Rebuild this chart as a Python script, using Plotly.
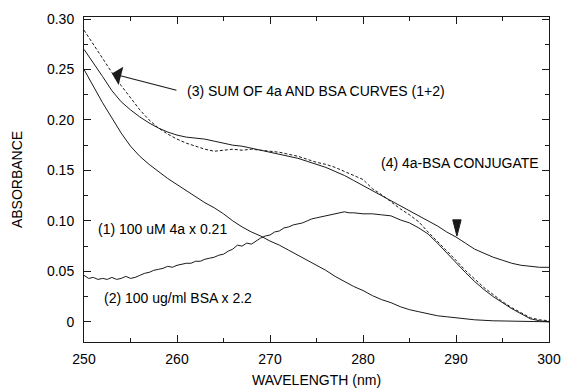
import plotly.graph_objects as go

# ---- data ----
wl_4a = [250, 251, 252, 253, 254, 255, 256, 257, 258, 259, 260, 261, 262, 263, 264, 265, 266, 267,
         268, 269, 270, 271, 272, 273, 274, 275, 276, 277, 278, 279, 280, 281, 282, 283, 284, 285,
         286, 287, 288, 289, 290, 292, 294, 296, 298, 300]
abs_4a = [0.250, 0.233, 0.217, 0.202, 0.187, 0.174, 0.164, 0.156, 0.149, 0.142, 0.136, 0.130,
          0.124, 0.118, 0.113, 0.107, 0.100, 0.094, 0.089, 0.085, 0.080, 0.076, 0.071, 0.066,
          0.061, 0.056, 0.051, 0.045, 0.040, 0.035, 0.031, 0.026, 0.022, 0.019, 0.015, 0.012,
          0.010, 0.008, 0.006, 0.005, 0.004, 0.002, 0.001, 0.0005, 0.0, 0.0]

wl_bsa = [250, 250.5, 251, 251.5, 252, 252.5, 253, 253.5, 254, 254.5, 255, 255.5, 256, 256.5,
          257, 257.5, 258, 258.5, 259, 259.5, 260, 260.5, 261, 261.5, 262, 262.5, 263, 263.5,
          264, 264.5, 265, 265.5, 266, 266.5, 267, 267.5, 268, 268.5, 269, 269.5, 270, 270.5,
          271, 271.5, 272, 272.5, 273, 273.5, 274, 274.5, 275, 275.5, 276, 276.5, 277, 277.5,
          278, 278.5, 279, 280, 281, 282, 283, 284, 285, 286, 287, 288, 289, 290, 291, 292,
          293, 294, 295, 296, 297, 298, 298.5, 299, 300]
abs_bsa = [0.046, 0.043, 0.044, 0.042, 0.043, 0.042, 0.044, 0.042, 0.043, 0.045, 0.043, 0.044,
           0.046, 0.048, 0.049, 0.051, 0.052, 0.053, 0.055, 0.054, 0.056, 0.057, 0.058, 0.058,
           0.060, 0.060, 0.062, 0.063, 0.064, 0.066, 0.067, 0.070, 0.072, 0.076, 0.075, 0.078,
           0.077, 0.080, 0.083, 0.085, 0.086, 0.089, 0.090, 0.093, 0.094, 0.096, 0.097, 0.098,
           0.100, 0.102, 0.103, 0.104, 0.105, 0.106, 0.107, 0.108, 0.109, 0.108, 0.108, 0.107,
           0.107, 0.106, 0.105, 0.101, 0.098, 0.093, 0.087, 0.078, 0.068, 0.058, 0.049, 0.040,
           0.032, 0.025, 0.019, 0.013, 0.008, 0.003, 0.002, 0.001, 0.0]

wl_sum = [250, 251, 252, 253, 254, 255, 256, 257, 258, 259, 260, 261, 262, 263, 264, 265, 266, 267,
          268, 269, 270, 271, 272, 273, 274, 275, 276, 277, 278, 279, 280, 281, 282, 283, 284, 285,
          286, 287, 288, 289, 290, 291, 292, 293, 294, 295, 296, 297, 298, 299, 300]
abs_sum = [0.289, 0.275, 0.260, 0.247, 0.234, 0.222, 0.210, 0.200, 0.192, 0.186, 0.181, 0.177,
           0.174, 0.171, 0.169, 0.170, 0.171, 0.170, 0.171, 0.170, 0.169, 0.168, 0.166, 0.164,
           0.161, 0.158, 0.156, 0.153, 0.149, 0.145, 0.141, 0.132, 0.126, 0.119, 0.112, 0.106,
           0.099, 0.089, 0.080, 0.070, 0.061, 0.051, 0.042, 0.034, 0.027, 0.020, 0.014, 0.009,
           0.004, 0.002, 0.001]

wl_conj = [250, 251, 252, 253, 254, 255, 256, 257, 258, 259, 260, 261, 262, 263, 264, 265, 266, 267,
           268, 269, 270, 271, 272, 273, 274, 275, 276, 277, 278, 279, 280, 281, 282, 283, 284, 285,
           286, 287, 288, 289, 290, 291, 292, 293, 294, 295, 296, 297, 298, 299, 300]
abs_conj = [0.270, 0.257, 0.243, 0.229, 0.218, 0.210, 0.203, 0.197, 0.192, 0.188, 0.185, 0.183,
            0.182, 0.181, 0.179, 0.177, 0.175, 0.174, 0.172, 0.170, 0.168, 0.166, 0.164, 0.162,
            0.159, 0.156, 0.153, 0.149, 0.145, 0.140, 0.135, 0.130, 0.125, 0.120, 0.115, 0.110,
            0.105, 0.100, 0.095, 0.089, 0.084, 0.078, 0.072, 0.068, 0.064, 0.061, 0.058, 0.056,
            0.055, 0.054, 0.054]

x_ticks = [250, 260, 270, 280, 290, 300]
y_ticks = [0, 0.05, 0.10, 0.15, 0.20, 0.25, 0.30]
y_tick_text = ["0", "0.05", "0.10", "0.15", "0.20", "0.25", "0.30"]

FONT = "Liberation Sans, Arial, sans-serif"
INK = "#1a1a1a"

fig = go.Figure()
fig.add_trace(go.Scatter(x=wl_4a, y=abs_4a, mode="lines", line=dict(color=INK, width=1), name="(1)"))
fig.add_trace(go.Scatter(x=wl_bsa, y=abs_bsa, mode="lines", line=dict(color=INK, width=1), name="(2)"))
fig.add_trace(go.Scatter(x=wl_sum, y=abs_sum, mode="lines",
                         line=dict(color=INK, width=1, dash="3px,2px"), name="(3)"))
fig.add_trace(go.Scatter(x=wl_conj, y=abs_conj, mode="lines", line=dict(color=INK, width=1), name="(4)"))

tf = dict(family=FONT, size=14, color="black")
fig.add_annotation(x=260.9, y=0.229, xref="x", yref="y", text="(3) SUM OF 4a AND BSA CURVES (1+2)",
                   showarrow=False, xanchor="left", yanchor="middle", font=tf)
fig.add_annotation(x=281.7, y=0.157, xref="x", yref="y", text="(4) 4a-BSA CONJUGATE",
                   showarrow=False, xanchor="left", yanchor="middle", font=tf)
fig.add_annotation(x=251.3, y=0.092, xref="x", yref="y", text="(1) 100 uM 4a x 0.21",
                   showarrow=False, xanchor="left", yanchor="middle", font=tf)
fig.add_annotation(x=251.9, y=0.024, xref="x", yref="y", text="(2) 100 ug/ml BSA x 2.2",
                   showarrow=False, xanchor="left", yanchor="middle", font=tf)
# arrow for (3)
fig.add_annotation(x=253.0, y=0.246, xref="x", yref="y", ax=260.1, ay=0.229, axref="x", ayref="y",
                   text="", showarrow=True, arrowhead=1, arrowsize=2.6, arrowwidth=1.2, arrowcolor=INK)
# arrowhead for (4)
fig.add_shape(type="path", xref="x", yref="y",
              path="M 289.65 0.101 L 290.55 0.101 L 290.1 0.085 Z",
              fillcolor=INK, line=dict(color=INK, width=1))

axis_common = dict(showline=True, linecolor=INK, linewidth=1, mirror="ticks", ticks="inside",
                   ticklen=7, tickcolor=INK, showgrid=False, zeroline=False, automargin=False,
                   tickfont=dict(family=FONT, size=14, color="black"))
fig.update_xaxes(range=[250, 300], tickvals=x_ticks, ticklabelstandoff=4,
                 minor=dict(ticks="inside", ticklen=4, dtick=5, tickcolor=INK),
                 title=dict(text="WAVELENGTH (nm)", font=dict(family=FONT, size=14, color="black"),
                            standoff=10), **axis_common)
fig.update_yaxes(range=[-0.02, 0.302], tickvals=y_ticks, ticktext=y_tick_text, ticklabelstandoff=6,
                 minor=dict(ticks="inside", ticklen=4, dtick=0.025, tickcolor=INK),
                 title=dict(text="ABSORBANCE", font=dict(family=FONT, size=14, color="black"),
                            standoff=21), **axis_common)
fig.update_layout(width=561, height=388, margin=dict(l=84, r=12, t=17, b=46),
                  paper_bgcolor="white", plot_bgcolor="white", showlegend=False)
fig.write_html("out.html", config={"displayModeBar": False},
               post_script="document.body.style.margin='0';document.body.style.overflow='hidden';")
